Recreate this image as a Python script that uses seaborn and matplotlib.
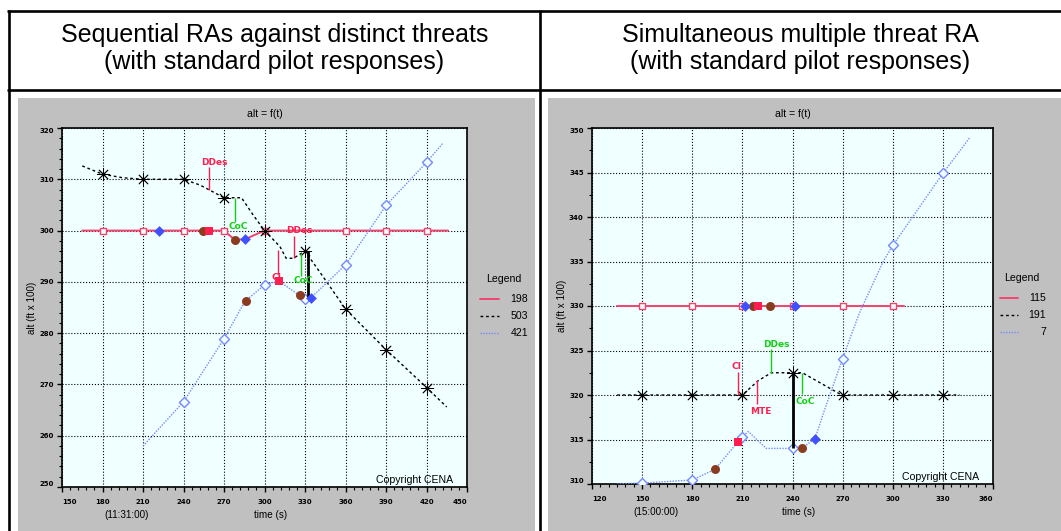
import matplotlib
matplotlib.use("Agg")
import matplotlib.pyplot as plt
import seaborn as sns
from matplotlib import font_manager
from matplotlib.lines import Line2D
from matplotlib.patches import Rectangle
from matplotlib.ticker import MultipleLocator

# ------------------------------------------------------------------
# Sequential RAs against distinct threats
# ------------------------------------------------------------------
seq_title = "Sequential RAs against distinct threats"
seq_subtitle = "(with standard pilot responses)"
seq_names = ["198", "503", "421"]
seq_clock = "(11:31:00)"
seq_xticks = [150, 180, 210, 240, 270, 300, 330, 360, 390, 420, 450]
seq_yticks = [250, 260, 270, 280, 290, 300, 310, 320]

seq_own_t = [165, 270, 278, 285.5, 300, 436]
seq_own_alt = [300, 300, 298.2, 298.3, 300, 300]
seq_own_mark_t = [180, 210, 240, 270, 300, 360, 390, 420]
seq_own_mark_alt = [300, 300, 300, 300, 300, 300, 300, 300]

seq_thr1_t = [165, 180, 195, 210, 240, 252, 258.6, 270, 283, 291.7, 300,
              311.4, 316, 321.5, 330, 345, 360, 390, 420, 435]
seq_thr1_alt = [312.6, 311, 310.3, 310, 310, 308.9, 308, 306.4, 306.4, 303, 300,
                296.9, 294.6, 294.6, 296, 290.4, 284.7, 276.8, 269.4, 265.6]
seq_thr1_mark_t = [180, 210, 240, 270, 300, 330, 360, 390, 420]
seq_thr1_mark_alt = [311, 310, 310, 306.4, 300, 296, 284.7, 276.8, 269.4]

seq_thr2_t = [210, 240, 270, 285.5, 300, 310.5, 330, 334.4, 360, 390, 420, 432]
seq_thr2_alt = [258, 266.6, 278.9, 286.2, 289.4, 290.2, 286.6, 286.9, 293.3, 304.9, 313.3, 317]
seq_thr2_mark_t = [240, 270, 300, 330, 360, 390, 420]
seq_thr2_mark_alt = [266.6, 278.9, 289.4, 286.6, 293.3, 304.9, 313.3]

seq_brown_t = [254.3, 278, 286, 326.3]
seq_brown_alt = [300, 298.2, 286.3, 287.4]
seq_blue_t = [221.9, 285.5, 334.4]
seq_blue_alt = [300, 298.3, 286.9]
seq_red_t = [259, 310.5]
seq_red_alt = [300, 290.2]

seq_call_text = ["DDes", "CoC", "DDes", "CI", "CoC"]
seq_call_t = [259, 278.5, 321.5, 310.2, 327]
seq_call_lo = [308, 301.7, 294.7, 291.6, 291.2]
seq_call_hi = [312.4, 306.4, 299.0, 296.3, 295.6]
seq_label_t = [263, 280.5, 326, 309, 329]
seq_label_alt = [313.3, 300.7, 300.0, 290.8, 290.2]

seq_sep_t = 332
seq_sep_lo = 287
seq_sep_hi = 296

# ------------------------------------------------------------------
# Simultaneous multiple threat RA
# ------------------------------------------------------------------
sim_title = "Simultaneous multiple threat RA"
sim_subtitle = "(with standard pilot responses)"
sim_names = ["115", "191", "7"]
sim_clock = "(15:00:00)"
sim_xticks = [120, 150, 180, 210, 240, 270, 300, 330, 360]
sim_yticks = [310, 315, 320, 325, 330, 335, 340, 345, 350]

sim_own_t = [135, 307]
sim_own_alt = [330, 330]
sim_own_mark_t = [150, 180, 210, 240, 270, 300]
sim_own_mark_alt = [330, 330, 330, 330, 330, 330]

sim_thr1_t = [135, 150, 180, 210, 219.4, 227.3, 240, 245.9, 269.4, 300, 330, 340]
sim_thr1_alt = [320, 320, 320, 320, 321.6, 322.5, 322.5, 322.5, 320, 320, 320, 320]
sim_thr1_mark_t = [150, 180, 210, 240, 270, 300, 330]
sim_thr1_mark_alt = [320, 320, 320, 322.5, 320, 320, 320]

sim_thr2_t = [135, 150, 180, 193.6, 207.2, 210, 213.5, 224.3, 240, 245.5, 253.5,
              258.4, 270, 280, 294.3, 300, 330, 346]
sim_thr2_alt = [310, 310.1, 310.45, 311.65, 314.7, 315.3, 315.9, 314, 314, 314, 315.1,
                317.9, 324.1, 329.2, 335, 336.8, 344.9, 348.9]
sim_thr2_mark_t = [150, 180, 210, 240, 270, 300, 330]
sim_thr2_mark_alt = [310.1, 310.45, 315.3, 314, 324.1, 336.8, 344.9]

sim_brown_t = [216.5, 226.8, 193.6, 245.5]
sim_brown_alt = [330, 330, 311.65, 314]
sim_blue_t = [211.6, 241.3, 253.5]
sim_blue_alt = [330, 330, 315.1]
sim_red_t = [219.1, 207.2]
sim_red_alt = [330, 314.7]

sim_call_text = ["CI", "DDes", "MTE", "CoC"]
sim_call_t = [207.3, 226.9, 219, 245.9]
sim_call_lo = [320, 322.5, 319, 320.1]
sim_call_hi = [322.6, 325.2, 321.7, 322.5]
sim_label_t = [206.3, 230.2, 221, 247.5]
sim_label_alt = [323.2, 325.7, 318.2, 319.3]

sim_sep_t = 240
sim_sep_lo = 314
sim_sep_hi = 322.5

# ------------------------------------------------------------------
# Styling
# ------------------------------------------------------------------
W, H = 1061, 531
BG = "#F0FFFF"
PANEL = "#C0C0C0"
RED_LINE = "#F2456E"
RED = "#FF1E4E"
GREEN = "#12D012"
BROWN = "#8B3C1E"
BLUE = "#4050FF"
LIGHT_BLUE = "#7788FF"

sns.set_theme(style="white")
available = {f.name for f in font_manager.fontManager.ttflist}
if "Liberation Sans Narrow" in available:
    NARROW, NS = "Liberation Sans Narrow", 1.0
else:
    NARROW, NS = "Liberation Sans", 0.84
plt.rcParams["font.family"] = ["Liberation Sans", "DejaVu Sans"]

fig = plt.figure(figsize=(W / 100, H / 100), dpi=100)
fig.patch.set_facecolor("white")


def fx(px):
    return px / W


def fy(py):
    return 1 - py / H


# table frame
for xa, ya, xb, yb in [(7, 11, 1061, 11), (7, 89.5, 1061, 89.5),
                       (8.5, 10, 8.5, 531), (539.5, 10, 539.5, 531)]:
    fig.add_artist(Line2D([fx(xa), fx(xb)], [fy(ya), fy(yb)], transform=fig.transFigure,
                          color="black", lw=1.9, solid_capstyle="butt"))

# grey screenshot backgrounds
for x0, x1 in [(18, 535), (548, 1061)]:
    fig.add_artist(Rectangle((fx(x0), fy(531)), fx(x1) - fx(x0), fy(98) - fy(531),
                             transform=fig.transFigure, facecolor=PANEL,
                             edgecolor="none", zorder=-1))

panels = [
    dict(title=seq_title, subtitle=seq_subtitle, head_x=274.5,
         ax_px=(62, 128, 467, 487), xlim=(150, 450), ylim=(250, 320),
         xticks=seq_xticks, yticks=seq_yticks, xminor=6, yminor=2,
         own=(seq_own_t, seq_own_alt), own_m=(seq_own_mark_t, seq_own_mark_alt),
         thr1=(seq_thr1_t, seq_thr1_alt), thr1_m=(seq_thr1_mark_t, seq_thr1_mark_alt),
         thr2=(seq_thr2_t, seq_thr2_alt), thr2_m=(seq_thr2_mark_t, seq_thr2_mark_alt),
         brown=(seq_brown_t, seq_brown_alt), blue=(seq_blue_t, seq_blue_alt),
         red=(seq_red_t, seq_red_alt),
         calls=(seq_call_text, seq_call_t, seq_call_lo, seq_call_hi, seq_label_t, seq_label_alt),
         call_colors=[RED, GREEN, RED, RED, GREEN],
         sep=(seq_sep_t, seq_sep_lo, seq_sep_hi),
         names=seq_names, clock=seq_clock, clock_t=181.5,
         leg=dict(title=(503.5, 279), line=(480, 499), num=528, rows=(299, 316, 333))),
    dict(title=sim_title, subtitle=sim_subtitle, head_x=800,
         ax_px=(592, 128, 993, 484), xlim=(120, 360), ylim=(310, 350),
         xticks=sim_xticks, yticks=sim_yticks, xminor=5, yminor=2.5,
         own=(sim_own_t, sim_own_alt), own_m=(sim_own_mark_t, sim_own_mark_alt),
         thr1=(sim_thr1_t, sim_thr1_alt), thr1_m=(sim_thr1_mark_t, sim_thr1_mark_alt),
         thr2=(sim_thr2_t, sim_thr2_alt), thr2_m=(sim_thr2_mark_t, sim_thr2_mark_alt),
         brown=(sim_brown_t, sim_brown_alt), blue=(sim_blue_t, sim_blue_alt),
         red=(sim_red_t, sim_red_alt),
         calls=(sim_call_text, sim_call_t, sim_call_lo, sim_call_hi, sim_label_t, sim_label_alt),
         call_colors=[RED, GREEN, RED, GREEN],
         sep=(sim_sep_t, sim_sep_lo, sim_sep_hi),
         names=sim_names, clock=sim_clock, clock_t=145,
         leg=dict(title=(1022, 278), line=(1000, 1018), num=1046, rows=(298, 315, 332))),
]

series_styles = [
    dict(color=RED_LINE, lw=1.4, ls="-"),
    dict(color="black", lw=1.0, ls=(0, (2, 2))),
    dict(color=LIGHT_BLUE, lw=1.0, ls=(0, (1, 1))),
]

for P in panels:
    # column header
    fig.text(fx(P["head_x"]), fy(42), P["title"], ha="center", va="baseline",
             fontsize=18, color="black")
    fig.text(fx(P["head_x"]), fy(69), P["subtitle"], ha="center", va="baseline",
             fontsize=18, color="black")

    x0, y0, x1, y1 = P["ax_px"]
    ax = fig.add_axes([fx(x0), fy(y1), fx(x1) - fx(x0), fy(y0) - fy(y1)])
    ax.set_facecolor(BG)

    # flight tracks
    for key, st in zip(["own", "thr1", "thr2"], series_styles):
        t, alt = P[key]
        sns.lineplot(x=t, y=alt, ax=ax, color=st["color"], linewidth=st["lw"],
                     linestyle=st["ls"], estimator=None, sort=False, legend=False,
                     zorder=3)

    # periodic track markers
    t, alt = P["own_m"]
    sns.scatterplot(x=t, y=alt, ax=ax, marker="s", s=24, facecolor=BG,
                    edgecolor=RED_LINE, linewidth=1.0, legend=False, zorder=4)
    t, alt = P["thr2_m"]
    sns.scatterplot(x=t, y=alt, ax=ax, marker="D", s=26, facecolor=BG,
                    edgecolor=LIGHT_BLUE, linewidth=1.0, legend=False, zorder=4)
    t, alt = P["thr1_m"]
    sns.scatterplot(x=t, y=alt, ax=ax, marker=(8, 2, 0), s=80, color="black",
                    edgecolor="black", linewidth=0.6, legend=False, zorder=5)
    sns.scatterplot(x=t, y=alt, ax=ax, marker="o", s=7, color="black",
                    edgecolor="black", linewidth=0, legend=False, zorder=5)

    # separation bar
    st, lo, hi = P["sep"]
    ax.vlines(st, lo, hi, color="black", lw=2.0, zorder=5)

    # RA event callouts
    texts, ct, clo, chi, lt, la = P["calls"]
    for txt, t, lo, hi, tx, ty, col in zip(texts, ct, clo, chi, lt, la, P["call_colors"]):
        ax.vlines(t, lo, hi, color=col, lw=1.0, zorder=6)
        ax.text(tx, ty, txt, color=col, fontsize=6.5, fontweight="bold",
                family="DejaVu Sans", ha="center", va="center", zorder=7)

    # RA event markers
    t, alt = P["brown"]
    sns.scatterplot(x=t, y=alt, ax=ax, marker="o", s=42, color=BROWN,
                    edgecolor=BROWN, linewidth=0, legend=False, zorder=8)
    t, alt = P["blue"]
    sns.scatterplot(x=t, y=alt, ax=ax, marker="D", s=30, color=BLUE,
                    edgecolor=BLUE, linewidth=0, legend=False, zorder=8)
    t, alt = P["red"]
    sns.scatterplot(x=t, y=alt, ax=ax, marker="s", s=34, color=RED,
                    edgecolor=RED, linewidth=0, legend=False, zorder=9)

    # axes, ticks and grid
    ax.set_xlim(*P["xlim"])
    ax.set_ylim(*P["ylim"])
    ax.set_xticks(P["xticks"], [str(v) for v in P["xticks"]])
    ax.set_yticks(P["yticks"], [str(v) for v in P["yticks"]])
    ax.xaxis.set_minor_locator(MultipleLocator(P["xminor"]))
    ax.yaxis.set_minor_locator(MultipleLocator(P["yminor"]))
    ax.tick_params(axis="both", which="major", direction="out", length=3.5, width=1,
                   color="black", labelcolor="black", labelsize=5,
                   bottom=True, left=True, top=False, right=False)
    ax.tick_params(axis="x", which="major", pad=5)
    ax.tick_params(axis="y", which="major", pad=2.5)
    ax.tick_params(axis="both", which="minor", direction="out", length=2, width=0.8,
                   color="black", bottom=True, left=True, top=False, right=False)
    for lab in ax.get_xticklabels() + ax.get_yticklabels():
        lab.set_family("DejaVu Sans")
        lab.set_fontweight("bold")
    xl = ax.get_xticklabels()
    xl[0].set_ha("left")
    xl[-1].set_ha("right")
    yl = ax.get_yticklabels()
    yl[0].set_va("bottom")
    yl[-1].set_va("top")
    ax.grid(True, which="major", color="black", linestyle=":", linewidth=0.8)
    ax.set_axisbelow(True)
    for sp in ax.spines.values():
        sp.set_color("black")
        sp.set_linewidth(1.2)
        sp.set_visible(True)

    ax.set_title("alt = f(t)", family=NARROW, fontsize=9 * NS, color="black",
                 y=1 + 14 / (y1 - y0), va="center", pad=0)
    ax.set_xlabel("time (s)", family=NARROW, fontsize=8.5 * NS, color="black")
    ax.xaxis.set_label_coords(0.516, -28 / (y1 - y0))
    ax.xaxis.label.set_va("center")
    ax.set_ylabel("alt (ft x 100)", family=NARROW, fontsize=8.5 * NS, color="black")
    ax.yaxis.set_label_coords(-30 / (x1 - x0), 0.5)
    ax.yaxis.label.set_va("center")
    ax.annotate(P["clock"], xy=(P["clock_t"], 0), xycoords=("data", "axes fraction"),
                xytext=(0, -28 * 0.72), textcoords="offset points", ha="left",
                va="center", family=NARROW, fontsize=8.5 * NS, color="black")
    ax.text(0.966, 0.02, "Copyright CENA", transform=ax.transAxes, ha="right",
            va="center", family=NARROW, fontsize=9 * NS, color="black", zorder=10)

    # legend block
    L = P["leg"]
    fig.text(fx(L["title"][0]), fy(L["title"][1]), "Legend", ha="center", va="center",
             family=NARROW, fontsize=9 * NS, color="black")
    for name, st, row in zip(P["names"], series_styles, L["rows"]):
        fig.add_artist(Line2D([fx(L["line"][0]), fx(L["line"][1])], [fy(row), fy(row)],
                              transform=fig.transFigure, color=st["color"],
                              lw=st["lw"], linestyle=st["ls"]))
        fig.text(fx(L["num"]), fy(row), name, ha="right", va="center",
                 family=NARROW, fontsize=9 * NS, color="black")

fig.savefig("out.png", dpi=100, facecolor="white")
